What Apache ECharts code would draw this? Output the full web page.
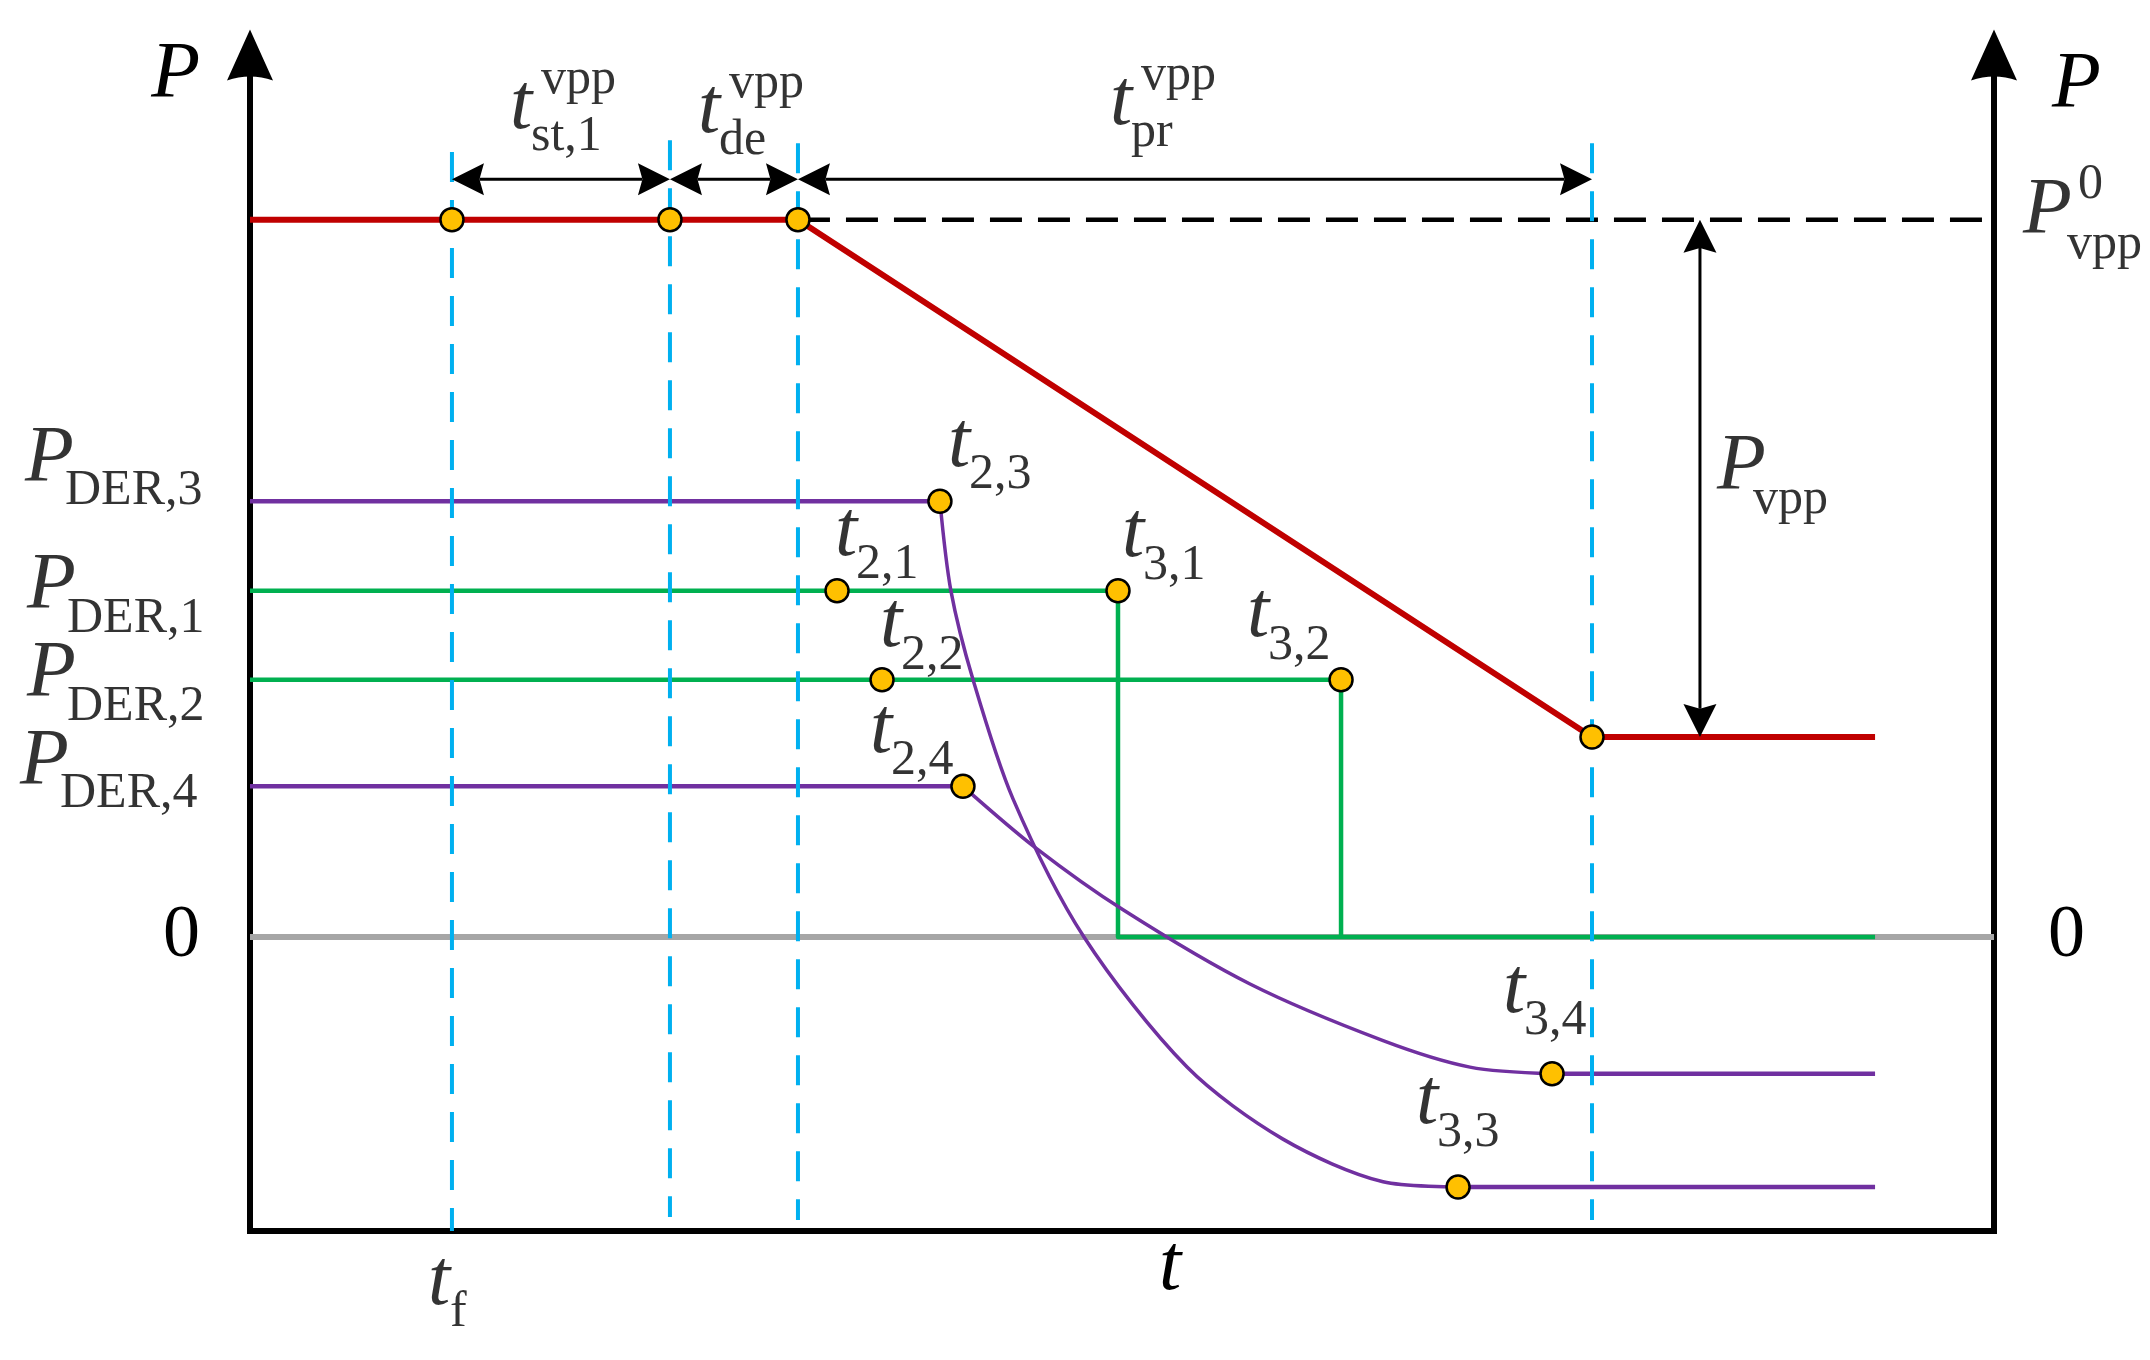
<!DOCTYPE html>
<html>
<head>
<meta charset="utf-8">
<script src="https://cdn.jsdelivr.net/npm/echarts@6/dist/echarts.min.js"></script>
<style>
html,body{margin:0;padding:0;background:#fff;}
#c{width:2150px;height:1360px;}
</style>
</head>
<body>
<div id="c"></div>
<script>
// ---------------- data (schematic units: time x = 0..100, power y = -40..120) ----------------
const tMarks      = [11.58, 24.08, 31.42, 76.95];   // t_f and the ends of t_st,1 / t_de / t_pr
const tMarkTop    = [106.8, 108.4, 108.0, 108.0];
const tMarkBottom = [-40, -38.1, -38.5, -38.5];
const tEnd        = 93.18;
const spanArrowY  = 103.1;
const spanSubs    = ['st,1', 'de', 'pr'];
const spanSups    = ['vpp', 'vpp', 'vpp'];
const pVpp0       = 97.6;
const pVppEnd     = 27.2;
const pVppArrowX  = 83.14;
const derNames    = ['DER,1', 'DER,2', 'DER,3', 'DER,4'];
const derLevels   = [47.1, 35.0, 59.3, 20.5];
const derFinal    = [0, 0, -34.0, -18.6];
const t2          = [33.66, 36.24, 39.56, 40.88];   // t_{2,i}
const t3          = [49.77, 62.56, 69.27, 74.66];   // t_{3,i}
const t2Names     = ['2,1', '2,2', '2,3', '2,4'];
const t3Names     = ['3,1', '3,2', '3,3', '3,4'];
const curve3X = [40.19, 41.46, 43.75, 47.82, 53.73, 59.23, 64.97];
const curve3Y = [47.1, 35.0, 18.8, 0, -17.7, -27.5, -33.3];
const curve4X = [45.01, 50.06, 57.34, 64.97, 69.95];
const curve4Y = [12.2, 3.7, -6.4, -14.1, -17.7];
const yTickLabels = {0: '0'};

// ---------------- layout / style (pixels) ----------------
const FONT = "'Liberation Serif', 'Times New Roman', serif";
const BIG = 80, SMALL = 50, MID = 0.3375;
const LAYOUT = {
  span: [[-51, -45], [-36, -41], [-85, -49]],
  t2: [[-2, -29], [-2, -27], [8, -29], [-93, -28]],
  t3: [[4, -28], [-94, -37], [-42, -57], [-49, -55]],
  der: [[-223, 24], [-223, 23], [-225, -14], [-230, 4]],
  pvpp: [17, 17], pvpp0: [29, 20], tf: [-24, 79]
};
const T_SUB = [21, 20], T_SUP = [31, -37], P_SUB = [40, 21], P_SUP = [55, -37];

const RED = '#C00000', GREEN = '#00B050', PURPLE = '#7030A0', BLUE = '#00B0F0', GOLD = '#FFC000';

function zip(xs, ys) { return xs.map((x, i) => [x, ys[i]]); }
function lineSeries(data, color, width, z, extra) {
  return Object.assign({
    type: 'line', data: data, symbol: 'none', silent: true, animation: false, z: z,
    lineStyle: { color: color, width: width, cap: 'butt', join: 'round' }
  }, extra || {});
}
function txt(at, text, size, italic, left, base) {
  return { value: at, label: { formatter: text, fontSize: size, fontStyle: italic ? 'italic' : 'normal',
    color: '#000', offset: [left, base - MID * size] } };
}
function mathLabel(at, baseChar, sub, sup, off, subOff, supOff) {
  const items = [txt(at, baseChar, BIG, true, off[0], off[1])];
  if (sub) items.push(txt(at, sub, SMALL, false, off[0] + subOff[0], off[1] + subOff[1]));
  if (sup) items.push(txt(at, sup, SMALL, false, off[0] + supOff[0], off[1] + supOff[1]));
  return items;
}
function arrowRenderer(L, W, lw) {
  return function (params, api) {
    const p1 = api.coord([api.value(0), api.value(1)]);
    const p2 = api.coord([api.value(2), api.value(3)]);
    const dx = p2[0] - p1[0], dy = p2[1] - p1[1];
    const len = Math.sqrt(dx * dx + dy * dy);
    const ux = dx / len, uy = dy / len, nx = -uy, ny = ux;
    const notch = L * 0.14;
    function head(tip, ex, ey) {
      const bx = tip[0] - ex * L, by = tip[1] - ey * L;
      return { type: 'polygon', shape: { points: [
        [tip[0], tip[1]], [bx + nx * W, by + ny * W],
        [tip[0] - ex * (L - notch), tip[1] - ey * (L - notch)], [bx - nx * W, by - ny * W]] },
        style: { fill: '#000' } };
    }
    return { type: 'group', children: [
      { type: 'line', shape: { x1: p1[0] + ux * (L - notch), y1: p1[1] + uy * (L - notch),
          x2: p2[0] - ux * (L - notch), y2: p2[1] - uy * (L - notch) },
        style: { stroke: '#000', lineWidth: lw } },
      head(p1, -ux, -uy), head(p2, ux, uy)
    ] };
  };
}

// ---------------- build series ----------------
const series = [];
series.push(lineSeries([[0, 0], [100, 0]], '#A6A6A6', 6, 1));
// red VPP power
series.push(lineSeries([[0, pVpp0], [tMarks[2], pVpp0], [tMarks[3], pVppEnd], [tEnd, pVppEnd]], RED, 6, 3));
// black dashed reference at P_vpp^0
series.push(lineSeries([[tMarks[2], pVpp0], [100, pVpp0]], '#000', 4.5, 3,
  { lineStyle: { color: '#000', width: 4.5, type: [32, 16] } }));
// green DERs (1,2)
series.push(lineSeries([[0, derLevels[0]], [t3[0], derLevels[0]], [t3[0], 0], [tEnd, 0]], GREEN, 4.5, 2));
series.push(lineSeries([[0, derLevels[1]], [t3[1], derLevels[1]], [t3[1], 0]], GREEN, 4.5, 2));
// purple DERs (3,4)
series.push(lineSeries([[0, derLevels[2]], [t2[2], derLevels[2]]], PURPLE, 4.5, 3));
series.push(lineSeries([[t2[2], derLevels[2]]].concat(zip(curve3X, curve3Y), [[t3[2], derFinal[2]]]), PURPLE, 3.5, 3, { smooth: 0.3 }));
series.push(lineSeries([[t3[2], derFinal[2]], [tEnd, derFinal[2]]], PURPLE, 4.5, 3));
series.push(lineSeries([[0, derLevels[3]], [t2[3], derLevels[3]]], PURPLE, 4.5, 3));
series.push(lineSeries([[t2[3], derLevels[3]]].concat(zip(curve4X, curve4Y), [[t3[3], derFinal[3]]]), PURPLE, 3.5, 3, { smooth: 0.3 }));
series.push(lineSeries([[t3[3], derFinal[3]], [tEnd, derFinal[3]]], PURPLE, 4.5, 3));
// blue dashed time marks
tMarks.forEach(function (x, i) {
  series.push(lineSeries([[x, tMarkTop[i]], [x, tMarkBottom[i]]], BLUE, 4, 5,
    { lineStyle: { color: BLUE, width: 4, type: [30, 18] } }));
});
// double arrows
series.push({ type: 'custom', coordinateSystem: 'cartesian2d', silent: true, animation: false, z: 6,
  encode: { x: [0, 2], y: [1, 3] },
  data: [0, 1, 2].map(i => [tMarks[i], spanArrowY, tMarks[i + 1], spanArrowY]),
  renderItem: arrowRenderer(32, 16, 3) });
series.push({ type: 'custom', coordinateSystem: 'cartesian2d', silent: true, animation: false, z: 6,
  encode: { x: [0, 2], y: [1, 3] },
  data: [[pVppArrowX, pVpp0, pVppArrowX, pVppEnd]],
  renderItem: arrowRenderer(33, 16.5, 3) });
// key points
const pts = [[tMarks[0], pVpp0], [tMarks[1], pVpp0], [tMarks[2], pVpp0], [tMarks[3], pVppEnd]]
  .concat(t2.map((x, i) => [x, derLevels[i]]))
  .concat(t3.map((x, i) => [x, i < 2 ? derLevels[i] : derFinal[i]]));
series.push({ type: 'scatter', data: pts, symbol: 'circle', symbolSize: 23, silent: true, animation: false, z: 8,
  itemStyle: { color: GOLD, borderColor: '#000', borderWidth: 2.5, opacity: 1 } });
// text annotations
let labels = [];
[0, 1, 2].forEach(function (i) {
  labels = labels.concat(mathLabel([(tMarks[i] + tMarks[i + 1]) / 2, spanArrowY], 't', spanSubs[i], spanSups[i],
    LAYOUT.span[i], T_SUB, T_SUP));
});
t2.forEach(function (x, i) {
  labels = labels.concat(mathLabel([x, derLevels[i]], 't', t2Names[i], null, LAYOUT.t2[i], T_SUB));
});
t3.forEach(function (x, i) {
  labels = labels.concat(mathLabel([x, i < 2 ? derLevels[i] : derFinal[i]], 't', t3Names[i], null, LAYOUT.t3[i], T_SUB));
});
derLevels.forEach(function (y, i) {
  labels = labels.concat(mathLabel([0, y], 'P', derNames[i], null, LAYOUT.der[i], P_SUB));
});
labels = labels.concat(mathLabel([pVppArrowX, (pVpp0 + pVppEnd) / 2], 'P', 'vpp', null, LAYOUT.pvpp, [36, 22]));
labels = labels.concat(mathLabel([100, pVpp0], 'P', 'vpp', '0', LAYOUT.pvpp0, [44, 23], P_SUP));
labels = labels.concat(mathLabel([tMarks[0], -40], 't', 'f', null, LAYOUT.tf, [22, 20]));
series.push({ type: 'scatter', data: labels, symbolSize: 1, silent: true, animation: false, clip: false, z: 10,
  itemStyle: { color: 'rgba(0,0,0,0)' },
  label: { show: true, position: 'top', distance: 0, align: 'left', verticalAlign: 'middle', color: '#000', fontFamily: FONT,
    textBorderColor: 'transparent', textBorderWidth: 0 } });

const ARROW_PATH = 'path://M23,0L46,51Q23,43 0,51Z';
function yAxisCfg(pos, nameGap, nameAlign, namePad, labelMargin) {
  return {
    type: 'value', position: pos, min: -40, max: 120, interval: 40,
    name: 'P', nameLocation: 'end', nameGap: nameGap,
    nameTextStyle: { fontFamily: FONT, fontSize: BIG, fontStyle: 'italic', color: '#000',
      align: nameAlign, verticalAlign: 'middle', padding: namePad },
    axisLine: { show: true, onZero: false, symbol: ['none', ARROW_PATH], symbolSize: [46, 51], symbolOffset: [0, 0],
      lineStyle: { color: '#000', width: 6, cap: 'square' } },
    axisTick: { show: false }, splitLine: { show: false },
    axisLabel: { show: true, margin: labelMargin, fontFamily: FONT, fontSize: 74, color: '#000',
      formatter: function (v) { return yTickLabels[v] || ''; } }
  };
}

const option = {
  animation: false,
  backgroundColor: '#fff',
  grid: { left: 250, right: 156, top: 55, bottom: 129, containLabel: false, outerBoundsMode: 'none' },
  xAxis: {
    type: 'value', min: 0, max: 100, interval: 10,
    name: 't', nameLocation: 'middle', nameGap: 37,
    nameTextStyle: { fontFamily: FONT, fontSize: BIG, fontStyle: 'italic', color: '#000',
      verticalAlign: 'middle', align: 'center', padding: [0, 0, 0, 96] },
    axisLine: { show: true, onZero: false, lineStyle: { color: '#000', width: 6, cap: 'square' } },
    axisTick: { show: false }, splitLine: { show: false }, axisLabel: { show: false }
  },
  yAxis: [
    yAxisCfg('left', -21, 'right', [0, 50, 0, 0], 50),
    yAxisCfg('right', -31, 'left', [0, 0, 0, 58], 54)
  ],
  series: series
};

const chart = echarts.init(document.getElementById('c'), null, { renderer: 'canvas', width: 2150, height: 1360 });
chart.setOption(option);
</script>
</body>
</html>
